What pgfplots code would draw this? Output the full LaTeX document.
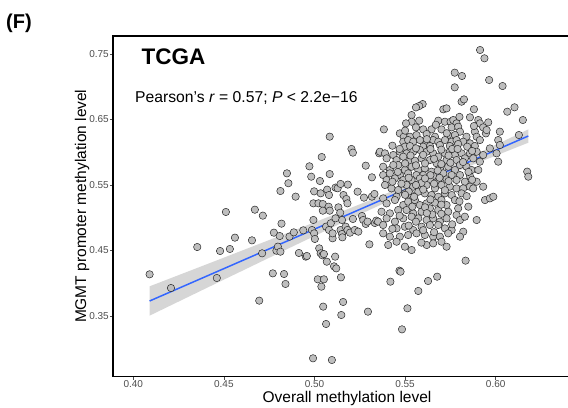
\documentclass[border=0pt]{standalone}
\usepackage{fontspec}
\setmainfont{Liberation Sans}
\usepackage{pgfplots}
\pgfplotsset{compat=1.18}
\definecolor{ptfill}{RGB}{190,190,190}
\definecolor{ptdraw}{RGB}{40,40,40}
\definecolor{fitblue}{RGB}{51,102,255}
\definecolor{bandgrey}{RGB}{153,153,153}
\definecolor{ticklab}{RGB}{77,77,77}

\pgfplotstableread{
x y
0.409 0.4136
0.4208 0.3927
0.4353 0.4553
0.4461 0.4080
0.4479 0.4492
0.4511 0.5088
0.4533 0.4523
0.4561 0.4696
0.4655 0.4655
0.4671 0.5123
0.4695 0.3734
0.4711 0.4457
0.4715 0.5032
0.4770 0.4151
0.4776 0.4772
0.4790 0.4497
0.4798 0.4559
0.4808 0.4721
0.4812 0.4482
0.4812 0.5408
0.4818 0.4910
0.4832 0.4141
0.4840 0.3989
0.4848 0.5678
0.4856 0.5527
0.4862 0.4712
0.4886 0.4777
0.4896 0.5322
0.4914 0.4462
0.4938 0.4808
0.4952 0.4406
0.4958 0.4416
0.4972 0.5785
0.4982 0.5627
0.4986 0.4813
0.4994 0.4966
0.4994 0.5220
0.4998 0.5403
0.4998 0.4762
0.5002 0.4676
0.5022 0.5220
0.5030 0.5561
0.5034 0.5373
0.5040 0.5927
0.5046 0.5210
0.5046 0.5108
0.5026 0.4533
0.5034 0.4457
0.5044 0.4426
0.5052 0.4446
0.5018 0.4060
0.5038 0.3948
0.5052 0.4060
0.5048 0.3643
0.5064 0.3378
0.4992 0.2854
0.5096 0.2828
0.5068 0.4329
0.5084 0.6238
0.5084 0.5667
0.5070 0.5429
0.5080 0.5347
0.5078 0.5169
0.5084 0.5108
0.5064 0.4864
0.5090 0.4916
0.5080 0.4813
0.5100 0.4686
0.5108 0.4258
0.5120 0.4227
0.5114 0.4406
0.5100 0.4762
0.5116 0.5460
0.5128 0.5450
0.5144 0.5516
0.5132 0.5159
0.5142 0.5077
0.5152 0.4966
0.5116 0.4991
0.5144 0.4813
0.5152 0.4752
0.5154 0.4701
0.5146 0.4090
0.5158 0.3714
0.5148 0.3515
0.5160 0.5347
0.5176 0.5286
0.5182 0.5220
0.5172 0.4864
0.5182 0.4813
0.5196 0.4772
0.5184 0.5506
0.5204 0.6050
0.5212 0.5994
0.5212 0.4981
0.5222 0.4813
0.5238 0.5398
0.5242 0.4788
0.5262 0.5027
0.5273 0.5307
0.5283 0.5795
0.5269 0.4966
0.5283 0.4905
0.5293 0.4941
0.5295 0.3566
0.5303 0.4594
0.5317 0.5617
0.5317 0.5322
0.5331 0.5363
0.5333 0.4920
0.5341 0.4956
0.5351 0.4941
0.5357 0.5984
0.5419 0.4024
0.5469 0.4192
0.5475 0.4176
0.5483 0.3296
0.5513 0.3617
0.5573 0.3882
0.5627 0.4034
0.5677 0.4100
0.5834 0.4345
0.5774 0.7215
0.5814 0.7164
0.5774 0.6991
0.5914 0.7561
0.5938 0.7434
0.5964 0.7103
0.6038 0.7011
0.6104 0.6686
0.6150 0.6492
0.6128 0.6263
0.6174 0.5704
0.6180 0.5627
0.5880 0.6656
0.5597 0.6736
0.5578 0.6706
0.5560 0.6685
0.5812 0.6772
0.5825 0.6807
0.5711 0.6655
0.5729 0.6670
0.6064 0.6619
0.5536 0.6568
0.5536 0.6466
0.5505 0.6441
0.5578 0.6482
0.5683 0.6482
0.5720 0.6466
0.5751 0.6466
0.5766 0.6492
0.5784 0.6441
0.5858 0.6533
0.5904 0.6492
0.5913 0.6441
0.5959 0.6456
0.5931 0.6380
0.5383 0.6349
0.5560 0.6380
0.5600 0.6349
0.5646 0.6349
0.5701 0.6349
0.5757 0.6380
0.5793 0.6390
0.5803 0.6314
0.5839 0.6237
0.5885 0.6314
0.5946 0.6288
0.5950 0.6339
0.6023 0.6314
0.5471 0.6288
0.5493 0.6237
0.5527 0.6237
0.5563 0.6263
0.5619 0.6278
0.5665 0.6237
0.5738 0.6263
0.5775 0.6263
0.5895 0.6237
0.5490 0.6161
0.5517 0.6186
0.5545 0.6161
0.5582 0.6186
0.5619 0.6146
0.5655 0.6186
0.5683 0.6161
0.5720 0.6186
0.5757 0.6161
0.5784 0.6186
0.5821 0.6161
0.5858 0.6136
0.5913 0.6186
0.6014 0.6186
0.6023 0.6110
0.5499 0.6085
0.5527 0.6095
0.5600 0.6085
0.5637 0.6095
0.5692 0.6110
0.5747 0.6095
0.5793 0.6126
0.5843 0.6085
0.5885 0.6095
0.5968 0.6059
0.5361 0.6008
0.5389 0.5983
0.5435 0.5958
0.5471 0.6008
0.5508 0.5983
0.5545 0.6008
0.5582 0.6034
0.5619 0.6008
0.5655 0.5983
0.5683 0.5932
0.5720 0.5983
0.5747 0.6008
0.5775 0.5958
0.5812 0.5983
0.5858 0.5983
0.5895 0.6008
0.5931 0.5958
0.6005 0.5983
0.5398 0.5907
0.5453 0.5881
0.5490 0.5932
0.5527 0.5871
0.5554 0.5871
0.5591 0.5907
0.5637 0.5881
0.5674 0.5830
0.5729 0.5881
0.5784 0.5881
0.5830 0.5907
0.5876 0.5907
0.5913 0.5856
0.6014 0.5856
0.5379 0.5779
0.5416 0.5729
0.5462 0.5805
0.5499 0.5729
0.5536 0.5779
0.5573 0.5729
0.5609 0.5754
0.5646 0.5703
0.5692 0.5754
0.5738 0.5779
0.5775 0.5729
0.5803 0.5805
0.5839 0.5779
0.5867 0.5729
0.5904 0.5729
0.5435 0.5805
0.5379 0.5652
0.5416 0.5678
0.5471 0.5652
0.5517 0.5678
0.5563 0.5652
0.5600 0.5652
0.5655 0.5637
0.5711 0.5678
0.5757 0.5652
0.5803 0.5652
0.5858 0.5637
0.5398 0.5576
0.5444 0.5601
0.5490 0.5576
0.5536 0.5576
0.5582 0.5601
0.5637 0.5576
0.5683 0.5566
0.5729 0.5586
0.5784 0.5576
0.5830 0.5550
0.5895 0.5550
0.5931 0.5474
0.5389 0.5500
0.5425 0.5448
0.5462 0.5423
0.5508 0.5500
0.5545 0.5474
0.5582 0.5464
0.5619 0.5500
0.5665 0.5448
0.5701 0.5500
0.5747 0.5474
0.5784 0.5448
0.5821 0.5448
0.5858 0.5474
0.5876 0.5448
0.5941 0.5270
0.5968 0.5296
0.5987 0.5321
0.5379 0.5296
0.5453 0.5321
0.5499 0.5372
0.5536 0.5347
0.5573 0.5398
0.5609 0.5372
0.5646 0.5347
0.5683 0.5321
0.5720 0.5372
0.5757 0.5347
0.5812 0.5372
0.5775 0.5270
0.5398 0.5219
0.5444 0.5270
0.5490 0.5194
0.5517 0.5245
0.5554 0.5270
0.5582 0.5194
0.5619 0.5219
0.5665 0.5230
0.5701 0.5270
0.5729 0.5194
0.5793 0.5143
0.5849 0.5169
0.5370 0.5092
0.5416 0.5067
0.5462 0.5118
0.5508 0.5118
0.5545 0.5067
0.5591 0.5092
0.5637 0.5143
0.5683 0.5118
0.5738 0.5092
0.5784 0.5041
0.5398 0.4991
0.5444 0.4940
0.5490 0.4991
0.5536 0.5016
0.5573 0.4991
0.5619 0.4965
0.5655 0.4991
0.5692 0.4940
0.5729 0.4991
0.5803 0.4965
0.5830 0.5016
0.5895 0.4965
0.5379 0.4889
0.5453 0.4838
0.5499 0.4863
0.5545 0.4812
0.5591 0.4863
0.5637 0.4889
0.5683 0.4889
0.5720 0.4838
0.5757 0.4812
0.5821 0.4787
0.5379 0.4762
0.5416 0.4711
0.5471 0.4711
0.5517 0.4736
0.5563 0.4762
0.5609 0.4736
0.5655 0.4711
0.5692 0.4711
0.5738 0.4762
0.5803 0.4711
0.5407 0.4584
0.5453 0.4634
0.5499 0.4558
0.5536 0.4507
0.5619 0.4584
0.5655 0.4609
0.5701 0.4634
0.5729 0.4558
0.5430 0.6100
0.5470 0.6050
0.5560 0.6060
0.5600 0.5960
0.5640 0.6050
0.5700 0.6040
0.5760 0.6050
0.5660 0.5900
0.5610 0.5830
0.5560 0.5800
0.5700 0.5820
0.5750 0.5840
0.5500 0.5830
0.5460 0.5700
0.5520 0.5610
0.5590 0.5530
0.5640 0.5650
0.5690 0.5610
0.5740 0.5560
0.5660 0.5520
0.5720 0.5420
0.5600 0.5430
0.5520 0.5400
0.5480 0.5520
0.5430 0.5550
0.5550 0.5320
0.5640 0.5280
0.5700 0.5200
0.5610 0.5160
0.5540 0.5170
0.5470 0.5030
0.5560 0.4940
0.5650 0.5050
0.5700 0.5060
0.5600 0.4810
0.5520 0.4880
0.5760 0.4900
0.5660 0.4780
0.5430 0.4830
0.5800 0.5250
0.5840 0.5330
0.5870 0.5580
0.5850 0.5700
0.5820 0.5850
0.5870 0.6020
0.5790 0.6050
0.5730 0.6290
0.5620 0.6200
0.5500 0.6330
0.5670 0.6420
0.5800 0.6540
0.5880 0.6400
0.5530 0.5950
0.5740 0.5950
0.5680 0.5720
0.5610 0.5600
0.5560 0.5500
0.5500 0.5350
0.5620 0.5070
0.5590 0.4620
}\pts

\begin{document}
\begin{tikzpicture}[x=1bp,y=1bp]
\path[use as bounding box] (-113,-30.5) rectangle (455,376.5);
\begin{axis}[
  at={(0,0)}, anchor=south west,
  scale only axis, width=468bp, height=340.5bp,
  xmin=0.3888, xmax=0.6471, ymin=0.2576, ymax=0.7775,
  xtick={0.40,0.45,0.50,0.55,0.60},
  xticklabels={0.40,0.45,0.50,0.55,0.60},
  ytick={0.35,0.45,0.55,0.65,0.75},
  yticklabels={0.35,0.45,0.55,0.65,0.75},
  xtick pos=left, ytick pos=left,
  tick align=outside, major tick length=3bp,
  tick style={color=ticklab, line width=0.6bp},
  ticklabel style={font=\fontsize{10bp}{11bp}\selectfont, text=ticklab, inner sep=1bp},
  axis line style={line width=1.1bp, black},
  clip=true,
]
\addplot[only marks, mark=*, mark size=3.7bp,
  mark options={fill=ptfill, draw=ptdraw, line width=0.5bp}] table[x=x,y=y] {\pts};
\addplot[fill=bandgrey, fill opacity=0.4, draw=none] coordinates {
(0.409,0.3953) (0.43,0.4177) (0.45,0.4391) (0.47,0.4606) (0.49,0.4821)
(0.51,0.5039) (0.53,0.5260) (0.55,0.5489) (0.56,0.5608) (0.57,0.5730)
(0.59,0.5983) (0.61,0.6244) (0.618,0.6349)
(0.618,0.6145) (0.61,0.6058) (0.59,0.5837) (0.57,0.5608) (0.56,0.5490)
(0.55,0.5367) (0.53,0.5114) (0.51,0.4853) (0.49,0.4589) (0.47,0.4322)
(0.45,0.4055) (0.43,0.3787) (0.409,0.3505)
} -- cycle;
\addplot[fitblue, line width=1.5bp] coordinates {(0.409,0.3729) (0.618,0.6248)};
\end{axis}
\node[anchor=base west, inner sep=0, font=\bfseries\fontsize{20bp}{22bp}\selectfont] at (-107,348.5) {(F)};
\node[anchor=base west, inner sep=0, font=\bfseries\fontsize{22.5bp}{24bp}\selectfont] at (28.5,312.5) {TCGA};
\node[anchor=base west, inner sep=0, font=\fontsize{15.7bp}{17bp}\selectfont] at (22,274) {Pearson's \textit{r} = 0.57; \textit{P} < 2.2e−16};
\node[anchor=base, inner sep=0, font=\fontsize{15.5bp}{17bp}\selectfont] at (234,-26) {Overall methylation level};
\node[anchor=base, inner sep=0, rotate=90, font=\fontsize{15.5bp}{17bp}\selectfont] at (-27,170.25) {MGMT promoter methylation level};
\end{tikzpicture}
\end{document}
